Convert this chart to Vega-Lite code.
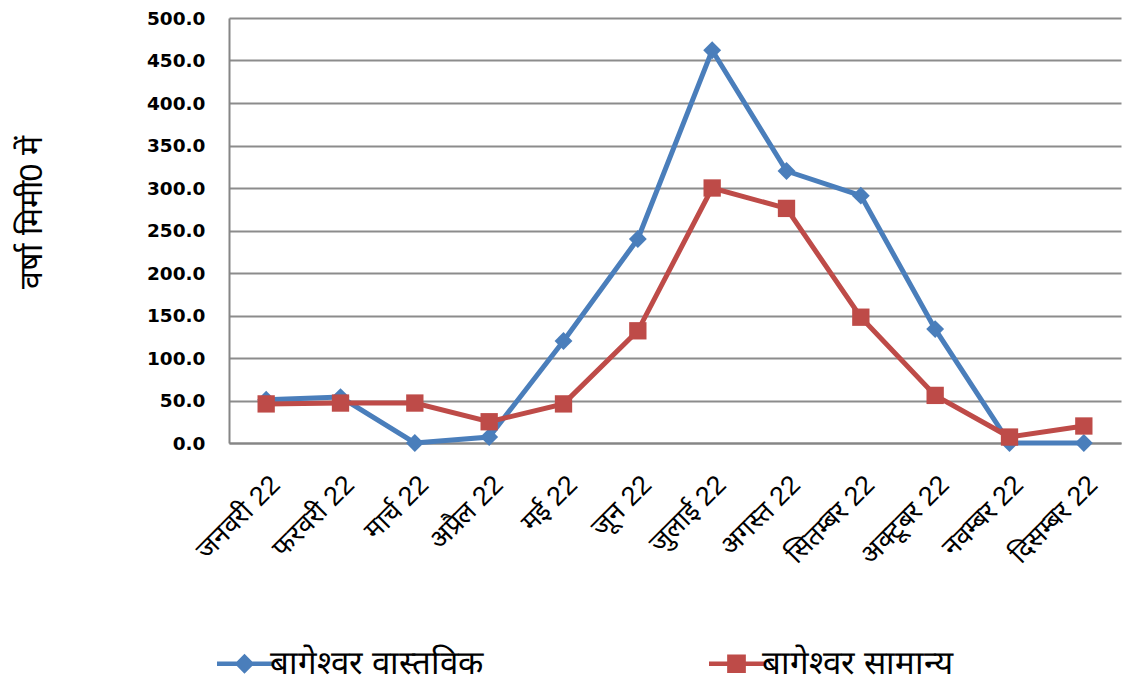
{
  "$schema": "https://vega.github.io/schema/vega-lite/v6.json",
  "width": 892,
  "height": 425,
  "autosize": {"type": "none"},
  "padding": {"left": 229, "top": 18, "right": 8, "bottom": 239},
  "background": "white",
  "config": {
    "view": {"stroke": null},
    "font": "Liberation Sans"
  },
  "data": {
    "values": [
      {"month": "जनवरी 22", "series": "बागेश्वर वास्तविक", "value": 51},
      {"month": "फरवरी 22", "series": "बागेश्वर वास्तविक", "value": 54},
      {"month": "मार्च 22", "series": "बागेश्वर वास्तविक", "value": 0},
      {"month": "अप्रैल 22", "series": "बागेश्वर वास्तविक", "value": 7},
      {"month": "मई 22", "series": "बागेश्वर वास्तविक", "value": 120},
      {"month": "जून 22", "series": "बागेश्वर वास्तविक", "value": 240},
      {"month": "जुलाई 22", "series": "बागेश्वर वास्तविक", "value": 462},
      {"month": "अगस्त 22", "series": "बागेश्वर वास्तविक", "value": 320},
      {"month": "सितम्बर 22", "series": "बागेश्वर वास्तविक", "value": 291},
      {"month": "अक्टूबर 22", "series": "बागेश्वर वास्तविक", "value": 134},
      {"month": "नवम्बर 22", "series": "बागेश्वर वास्तविक", "value": 0},
      {"month": "दिसम्बर 22", "series": "बागेश्वर वास्तविक", "value": 0},
      {"month": "जनवरी 22", "series": "बागेश्वर सामान्य", "value": 46},
      {"month": "फरवरी 22", "series": "बागेश्वर सामान्य", "value": 47},
      {"month": "मार्च 22", "series": "बागेश्वर सामान्य", "value": 47},
      {"month": "अप्रैल 22", "series": "बागेश्वर सामान्य", "value": 25},
      {"month": "मई 22", "series": "बागेश्वर सामान्य", "value": 46},
      {"month": "जून 22", "series": "बागेश्वर सामान्य", "value": 132},
      {"month": "जुलाई 22", "series": "बागेश्वर सामान्य", "value": 300},
      {"month": "अगस्त 22", "series": "बागेश्वर सामान्य", "value": 276},
      {"month": "सितम्बर 22", "series": "बागेश्वर सामान्य", "value": 148},
      {"month": "अक्टूबर 22", "series": "बागेश्वर सामान्य", "value": 56},
      {"month": "नवम्बर 22", "series": "बागेश्वर सामान्य", "value": 7},
      {"month": "दिसम्बर 22", "series": "बागेश्वर सामान्य", "value": 20}
    ]
  },
  "encoding": {
    "x": {
      "field": "month",
      "type": "nominal",
      "sort": null,
      "scale": {"paddingInner": 0, "paddingOuter": 0.5},
      "axis": {
        "title": null,
        "labelAngle": -45,
        "labelFontSize": 27,
        "labelColor": "black",
        "labelPadding": 28,
        "ticks": false,
        "domainColor": "#868686",
        "domainWidth": 2,
        "labelLimit": 300
      }
    },
    "y": {
      "field": "value",
      "type": "quantitative",
      "scale": {"domain": [0, 500], "nice": false},
      "axis": {
        "title": "वर्षा मिमी0 में",
        "titleFontSize": 32,
        "titleFontWeight": "normal",
        "titleColor": "black",
        "titlePadding": 98,
        "titleY": 194,
        "values": [0, 50, 100, 150, 200, 250, 300, 350, 400, 450, 500],
        "format": ".1f",
        "labelFont": "DejaVu Sans",
        "labelFontSize": 18.5,
        "labelFontWeight": "bold",
        "labelColor": "black",
        "labelPadding": 24,
        "ticks": false,
        "domainColor": "#868686",
        "domainWidth": 2,
        "gridColor": "#8c8c8c",
        "gridWidth": 2
      }
    },
    "color": {
      "field": "series",
      "type": "nominal",
      "sort": ["बागेश्वर वास्तविक", "बागेश्वर सामान्य"],
      "scale": {"domain": ["बागेश्वर वास्तविक", "बागेश्वर सामान्य"], "range": ["#4a7ebb", "#be4b48"]},
      "legend": {
        "title": null,
        "orient": "none",
        "direction": "horizontal",
        "legendX": -8,
        "legendY": 629,
        "labelFontSize": 33,
        "labelColor": "black",
        "labelLimit": 400,
        "symbolSize": 756,
        "symbolStrokeWidth": 0,
        "symbolOpacity": 1,
        "columnPadding": 225,
        "labelOffset": 9,
        "symbolOffset": 7,
        "encode": {
          "symbols": {
            "update": {
              "shape": {"signal": "datum.value === 'बागेश्वर वास्तविक' ? 'M-2,-0.17H2V0.17H-2Z M0,-0.72L0.72,0L0,0.72L-0.72,0Z' : 'M-2,-0.17H2V0.17H-2Z M-0.68,-0.68H0.68V0.68H-0.68Z'"},
              "fill": {"signal": "datum.value === 'बागेश्वर वास्तविक' ? '#4a7ebb' : '#be4b48'"},
              "size": {"value": 756},
              "strokeWidth": {"value": 0}
            }
          }
        }
      }
    }
  },
  "layer": [
    {"mark": {"type": "line", "strokeWidth": 5}},
    {
      "transform": [{"filter": "datum.series === 'बागेश्वर वास्तविक'"}],
      "mark": {"type": "point", "filled": true, "opacity": 1, "size": 320, "shape": "diamond"}
    },
    {
      "transform": [{"filter": "datum.series === 'बागेश्वर सामान्य'"}],
      "mark": {"type": "point", "filled": true, "opacity": 1, "size": 300, "shape": "square"}
    }
  ]
}
